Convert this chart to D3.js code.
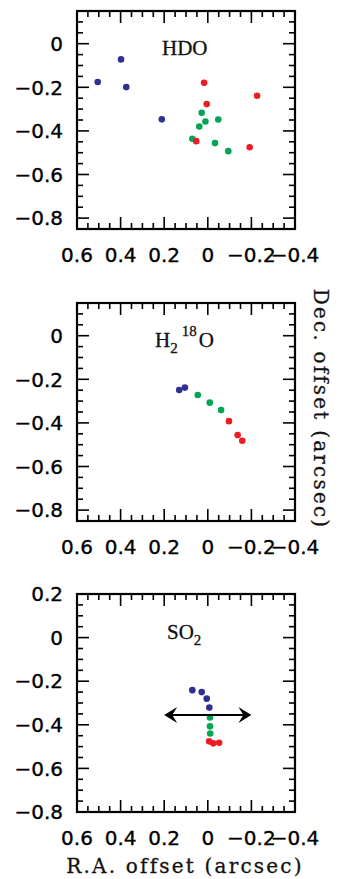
<!DOCTYPE html>
<meta charset="utf-8">
<style>
body{margin:0;background:#fff;}
.frame{fill:none;stroke:#000;stroke-width:2.2;}
.tick{stroke:#000;stroke-width:1.6;}
.ticklab{font-family:"DejaVu Sans";font-size:20px;fill:#000;stroke:#000;stroke-width:0.35;}
.mol{font-family:"Liberation Serif";font-size:21px;fill:#111;stroke:#111;stroke-width:0.3;}
.axlab{font-family:"DejaVu Serif";font-size:20px;letter-spacing:2.2px;fill:#111;stroke:#111;stroke-width:0.3;}
</style>
<body>
<script src="https://d3js.org/d3.v7.min.js"></script>
<script>

var width = 344, height = 879;

// tick labels
var xTickVals = [0.6, 0.4, 0.2, 0, -0.2, -0.4];
var xTickText = ["0.6", "0.4", "0.2", "0", "\u22120.2", "\u22120.4"];
var yTickVals = [0.2, 0, -0.2, -0.4, -0.6, -0.8];
var yTickText = ["0.2", "0", "\u22120.2", "\u22120.4", "\u22120.6", "\u22120.8"];

// HDO
var hdoBlueX = [0.505, 0.398, 0.374, 0.211];
var hdoBlueY = [-0.176, -0.072, -0.199, -0.347];
var hdoGreenX = [0.028, 0.011, -0.048, 0.039, 0.071, -0.033, -0.094];
var hdoGreenY = [-0.317, -0.357, -0.348, -0.380, -0.436, -0.456, -0.493];
var hdoRedX = [0.017, 0.005, -0.226, -0.192, 0.053];
var hdoRedY = [-0.179, -0.277, -0.239, -0.475, -0.447];

// H2 18O
var h218oBlueX = [0.131, 0.105];
var h218oBlueY = [-0.249, -0.238];
var h218oGreenX = [0.046, -0.009, -0.061];
var h218oGreenY = [-0.272, -0.307, -0.341];
var h218oRedX = [-0.097, -0.137, -0.158];
var h218oRedY = [-0.392, -0.456, -0.482];

// SO2
var so2BlueX = [0.071, 0.028, 0.005, -0.007];
var so2BlueY = [-0.241, -0.250, -0.280, -0.321];
var so2GreenX = [-0.010, -0.010, -0.011];
var so2GreenY = [-0.366, -0.407, -0.440];
var so2RedX = [-0.006, -0.025, -0.052];
var so2RedY = [-0.476, -0.485, -0.482];
var so2ArrowX = [0.2, -0.2];
var so2ArrowY = -0.355;

var blue = "#2e3192", green = "#00a651", red = "#ed1c24";

var panels = [
  {top: 11, yDom: [-0.85, 0.15], mol: "HDO",
   sets: [[hdoBlueX, hdoBlueY, blue], [hdoGreenX, hdoGreenY, green], [hdoRedX, hdoRedY, red]]},
  {top: 303, yDom: [-0.85, 0.15], mol: "H218O",
   sets: [[h218oBlueX, h218oBlueY, blue], [h218oGreenX, h218oGreenY, green], [h218oRedX, h218oRedY, red]]},
  {top: 594, yDom: [-0.8, 0.2], mol: "SO2",
   sets: [[so2BlueX, so2BlueY, blue], [so2GreenX, so2GreenY, green], [so2RedX, so2RedY, red]]}
];

var left = 77, size = 218;

var svg = d3.select("body").append("svg")
    .attr("width", width)
    .attr("height", height);

var x = d3.scaleLinear().domain([0.6, -0.4]).range([left, left + size]);

function range(a, b, step) {
  var out = [];
  var n = Math.round((b - a) / step);
  for (var i = 0; i <= n; i++) out.push(+(a + i * step).toFixed(3));
  return out;
}
function isMajor(v) { return Math.abs(v / 0.2 - Math.round(v / 0.2)) < 1e-6; }

panels.forEach(function(p) {
  var y = d3.scaleLinear().domain(p.yDom).range([p.top + size, p.top]);
  var g = svg.append("g");
  var x0 = left, x1 = left + size, y0 = p.top + size, y1 = p.top;

  // ticks on all four sides, pointing inward
  var xt = range(-0.4, 0.6, 0.05);
  xt.forEach(function(v) {
    var len = isMajor(v) ? 12 : 6;
    g.append("line").attr("class", "tick")
      .attr("x1", x(v)).attr("x2", x(v)).attr("y1", y0).attr("y2", y0 - len);
    g.append("line").attr("class", "tick")
      .attr("x1", x(v)).attr("x2", x(v)).attr("y1", y1).attr("y2", y1 + len);
  });
  var yt = range(p.yDom[0], p.yDom[1], 0.05);
  yt.forEach(function(v) {
    var len = isMajor(v) ? 12 : 6;
    g.append("line").attr("class", "tick")
      .attr("y1", y(v)).attr("y2", y(v)).attr("x1", x0).attr("x2", x0 + len);
    g.append("line").attr("class", "tick")
      .attr("y1", y(v)).attr("y2", y(v)).attr("x1", x1).attr("x2", x1 - len);
  });

  g.append("rect").attr("class", "frame")
    .attr("x", x0).attr("y", y1).attr("width", size).attr("height", size);

  // tick labels
  g.selectAll(".xl").data(xTickVals).enter().append("text")
    .attr("class", "ticklab")
    .attr("x", function(d) { return x(d); })
    .attr("y", y0 + 33)
    .attr("text-anchor", "middle")
    .text(function(d, i) { return xTickText[i]; });
  var yl = yTickVals.map(function(v, i) { return [v, yTickText[i]]; })
    .filter(function(d) { return d[0] >= p.yDom[0] - 1e-6 && d[0] <= p.yDom[1] + 1e-6; });
  g.selectAll(".yl").data(yl).enter().append("text")
    .attr("class", "ticklab")
    .attr("x", 63)
    .attr("y", function(d) { return y(d[0]); })
    .attr("dy", "0.36em")
    .attr("text-anchor", "end")
    .text(function(d) { return d[1]; });

  // points
  p.sets.forEach(function(s) {
    g.selectAll(null).data(s[0]).enter().append("circle")
      .attr("cx", function(d) { return x(d); })
      .attr("cy", function(d, i) { return y(s[1][i]); })
      .attr("r", 3.3)
      .attr("fill", s[2]);
  });

  // molecule label
  var t = g.append("text").attr("class", "mol");
  if (p.mol === "HDO") {
    t.attr("x", 162).attr("y", y1 + 44).text("HDO");
  } else if (p.mol === "H218O") {
    t.attr("x", 155).attr("y", y1 + 44);
    t.append("tspan").text("H");
    t.append("tspan").attr("dy", 6).attr("font-size", 15).text("2");
    t.append("tspan").attr("dy", -17).attr("dx", 4).attr("font-size", 15).text("18");
    t.append("tspan").attr("dy", 11).attr("dx", 2).text("O");
  } else {
    t.attr("x", 167).attr("y", y1 + 45);
    t.append("tspan").text("SO");
    t.append("tspan").attr("dy", 6).attr("font-size", 15).text("2");

    // double arrow
    var ax0 = x(so2ArrowX[0]), ax1 = x(so2ArrowX[1]), ay = y(so2ArrowY);
    g.append("line").attr("x1", ax0 + 4).attr("x2", ax1 - 4)
      .attr("y1", ay).attr("y2", ay)
      .attr("stroke", "#000").attr("stroke-width", 2);
    var head = function(tx, dir) {
      return "M" + tx + "," + ay +
        "L" + (tx + dir * 13) + "," + (ay - 8) +
        "L" + (tx + dir * 8) + "," + ay +
        "L" + (tx + dir * 13) + "," + (ay + 8) + "Z";
    };
    g.append("path").attr("d", head(ax0, 1)).attr("fill", "#000");
    g.append("path").attr("d", head(ax1, -1)).attr("fill", "#000");
  }
});

// axis titles
svg.append("text").attr("class", "axlab")
  .attr("x", 185).attr("y", 873)
  .attr("text-anchor", "middle")
  .text("R.A. offset (arcsec)");
svg.append("text").attr("class", "axlab")
  .attr("transform", "translate(314,409) rotate(90)")
  .attr("text-anchor", "middle")
  .text("Dec. offset (arcsec)");

</script>
